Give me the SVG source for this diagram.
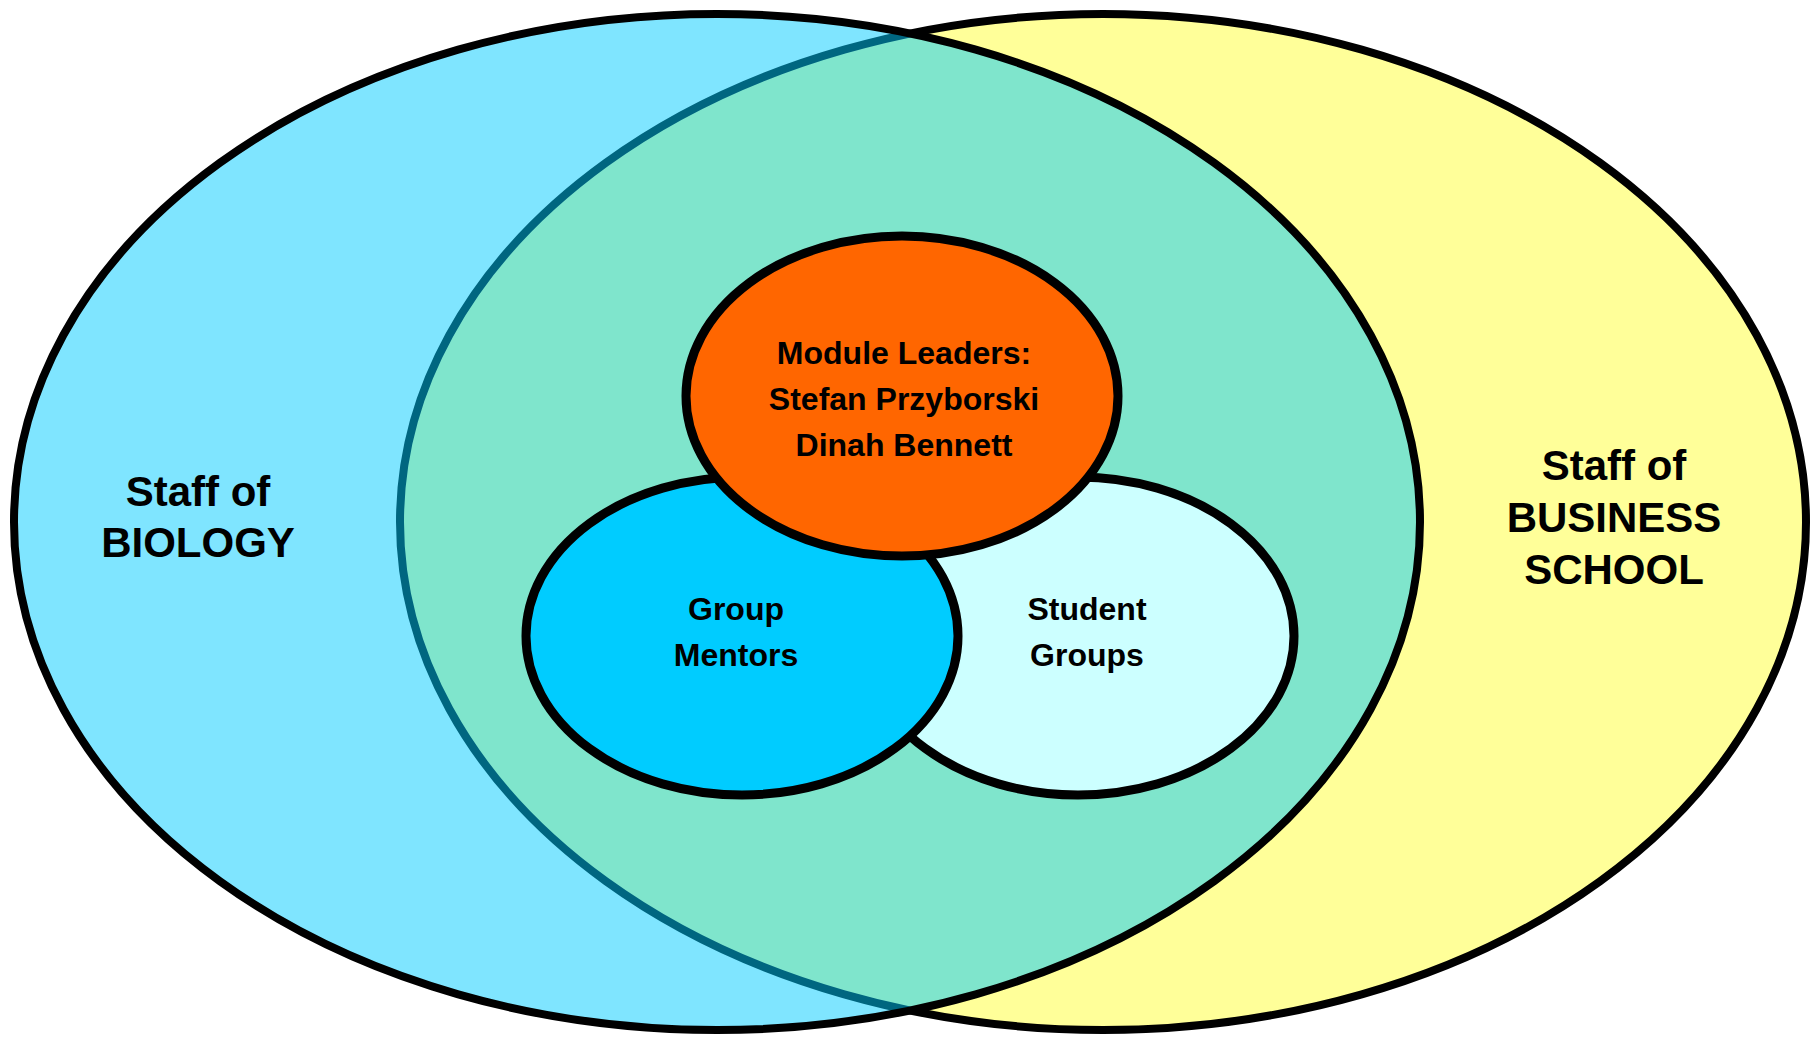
<svg xmlns="http://www.w3.org/2000/svg" width="1820" height="1040" viewBox="0 0 1820 1040">
  <style>
    .set { stroke: #000; stroke-width: 8; }
    .inner { stroke: #000; stroke-width: 9; }
    .big { font-family: "Liberation Sans", Arial, sans-serif; font-weight: bold; font-size: 42px; fill: #000; text-anchor: middle; }
    .small { font-family: "Liberation Sans", Arial, sans-serif; font-weight: bold; font-size: 32px; fill: #000; text-anchor: middle; }
  </style>
  <rect width="1820" height="1040" fill="#fff"/>

  <!-- Business school set, drawn underneath -->
  <g id="business">
    <ellipse class="set" cx="1103" cy="522" rx="703" ry="508" fill="#FFFF99"/>
  </g>

  <!-- Biology set, translucent fill so the overlap blends to green -->
  <g id="biology">
    <ellipse class="set" cx="717" cy="522" rx="703" ry="508" fill="#00CCFF" fill-opacity="0.5"/>
  </g>

  <g id="student-groups">
    <ellipse class="inner" cx="1078" cy="636" rx="216" ry="159" fill="#CCFFFF"/>
    <text class="small" x="1087" y="620">Student</text>
    <text class="small" x="1087" y="666">Groups</text>
  </g>

  <g id="group-mentors">
    <ellipse class="inner" cx="742" cy="636" rx="216" ry="159" fill="#00CCFF"/>
    <text class="small" x="736" y="620">Group</text>
    <text class="small" x="736" y="666">Mentors</text>
  </g>

  <g id="module-leaders">
    <ellipse class="inner" cx="902" cy="396" rx="216" ry="160" fill="#FF6600"/>
    <text class="small" x="904" y="364">Module Leaders:</text>
    <text class="small" x="904" y="410">Stefan Przyborski</text>
    <text class="small" x="904" y="456">Dinah Bennett</text>
  </g>

  <g id="labels">
    <text class="big" x="198" y="506">Staff of</text>
    <text class="big" x="198" y="557">BIOLOGY</text>
    <text class="big" x="1614" y="480">Staff of</text>
    <text class="big" x="1614" y="532">BUSINESS</text>
    <text class="big" x="1614" y="584">SCHOOL</text>
  </g>

  <g id="connectors"></g>
</svg>
